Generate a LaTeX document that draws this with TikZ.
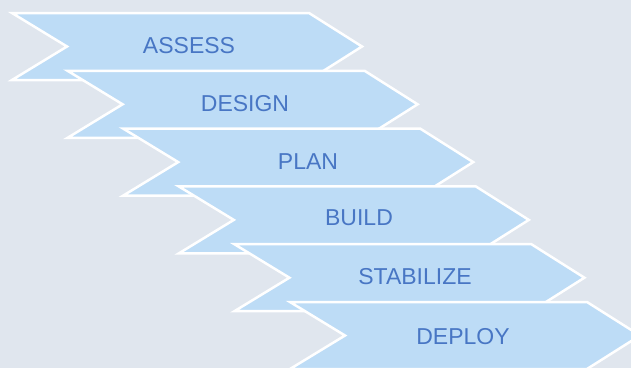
\documentclass[tikz,border=0pt]{standalone}
\usepackage{fontspec}
\setmainfont{Liberation Sans}
\usepackage{tikz}
\definecolor{bgcol}{RGB}{224,230,238}
\definecolor{chevfill}{RGB}{189,220,246}
\definecolor{lbltext}{RGB}{72,118,196}
\newcommand{\chevron}[2]{\draw[chev] (#1,#2) -- ++(297,0) -- ++(53,33.5) -- ++(-53,33.5) -- ++(-297,0) -- ++(55,-33.5) -- cycle;}

\begin{document}
\begin{tikzpicture}[x=1pt, y=-1pt,
		chev/.style={fill=chevfill, draw=white, line width=2.5pt},
		lbl/.style={text=lbltext, font=\fontsize{23}{27}\selectfont}]
		\fill[bgcol] (0,0) rectangle (631,368);
		\clip (0,0) rectangle (631,368);

		\chevron{12}{13}
		\node[lbl] (assess) at (189,46) {ASSESS};
		\chevron{67.6}{70.8}
		\node[lbl] (design) at (245,104) {DESIGN};
		\chevron{123.2}{128.6}
		\node[lbl] (plan) at (308,162) {PLAN};
		\chevron{178.8}{186.4}
		\node[lbl] (build) at (359,218) {BUILD};
		\chevron{234.4}{244.2}
		\node[lbl] (stabilize) at (415,277) {STABILIZE};
		\chevron{290}{302}
		\node[lbl] (deploy) at (463,337) {DEPLOY};

	\end{tikzpicture}
\end{document}
